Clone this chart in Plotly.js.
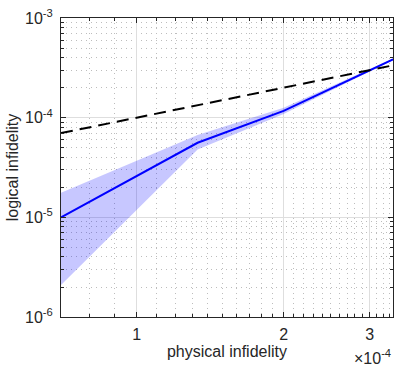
<!DOCTYPE html>
<html>
<head>
<meta charset="utf-8">
<script src="https://cdn.plot.ly/plotly-3.0.1.min.js"></script>
<style>
  html, body { margin: 0; padding: 0; background: #fff; }
  #fig { width: 415px; height: 369px; }
</style>
</head>
<body>
<div id="fig"></div>
<script>
// physical vs logical infidelity
var physX    = [0.7e-4, 1.333e-4, 2e-4, 3.35e-4];
var logMean  = [1.0e-5, 5.6e-5, 1.17e-4, 3.85e-4];
var logLow   = [2.1e-6, 4.8e-5, 1.09e-4, 3.78e-4];
var logHigh  = [1.76e-5, 6.7e-5, 1.26e-4, 3.92e-4];

// break-even line y = x
var refX = [0.7e-4, 3.35e-4];
var refY = [0.7e-4, 3.35e-4];

var xTickVals = [1e-4, 2e-4, 3e-4];
var xTickText = ['1', '2', '3'];
var yTickVals = [1e-6, 1e-5, 1e-4, 1e-3];
var yTickText = ['10<sup>-6</sup>', '10<sup>-5</sup>', '10<sup>-4</sup>', '10<sup>-3</sup>'];

var xMinor = [0.7e-4, 0.8e-4, 0.9e-4, 1.1e-4, 1.2e-4, 1.3e-4, 1.4e-4, 1.5e-4, 1.6e-4, 1.7e-4, 1.8e-4, 1.9e-4,
              2.1e-4, 2.2e-4, 2.3e-4, 2.4e-4, 2.5e-4, 2.6e-4, 2.7e-4, 2.8e-4, 2.9e-4, 3.1e-4, 3.2e-4, 3.3e-4];
var yMinor = [];
[1e-6, 1e-5, 1e-4].forEach(function (d) {
  for (var k = 2; k <= 9; k++) yMinor.push(k * d);
});

// band: upper bound, then lower bound filled up to it
var bandUp = {
  x: physX, y: logHigh, mode: 'lines', line: {width: 0},
  type: 'scatter', showlegend: false, hoverinfo: 'none'
};
var bandLow = {
  x: physX, y: logLow, mode: 'lines', line: {width: 0},
  fill: 'tonexty', fillcolor: 'rgba(0,0,255,0.22)',
  type: 'scatter', showlegend: false, hoverinfo: 'none'
};
var meanLine = {
  x: physX, y: logMean, mode: 'lines',
  line: {color: '#0000ff', width: 2},
  type: 'scatter', showlegend: false
};
var refLine = {
  x: refX, y: refY, mode: 'lines',
  line: {color: '#000', width: 2, dash: '12px,7px'},
  type: 'scatter', showlegend: false
};

var fnt = {family: 'Liberation Sans, Arial, sans-serif', size: 16, color: '#262626'};

var layout = {
  width: 415, height: 369,
  margin: {l: 61, r: 22, t: 18, b: 52},
  paper_bgcolor: '#fff', plot_bgcolor: '#fff',
  showlegend: false,
  font: fnt,
  xaxis: {
    type: 'log',
    range: [Math.log10(0.7e-4), Math.log10(3.35e-4)],
    tickmode: 'array', tickvals: xTickVals, ticktext: xTickText,
    ticks: 'inside', ticklen: 5, tickcolor: '#262626', tickwidth: 1,
    showline: true, linecolor: '#262626', linewidth: 1, mirror: 'ticks',
    showgrid: true, gridcolor: '#dedede', gridwidth: 1,
    zeroline: false,
    tickfont: fnt,
    ticklabelstandoff: 3,
    title: {text: 'physical infidelity', font: fnt, standoff: 2},
    minor: {
      tickmode: 'array', tickvals: xMinor,
      ticks: 'inside', ticklen: 3, tickcolor: '#262626',
      showgrid: true, gridcolor: '#bdbdbd', griddash: '1px,4px', gridwidth: 1
    }
  },
  yaxis: {
    type: 'log',
    range: [-6, -3],
    tickmode: 'array', tickvals: yTickVals, ticktext: yTickText,
    ticks: 'inside', ticklen: 5, tickcolor: '#262626', tickwidth: 1,
    showline: true, linecolor: '#262626', linewidth: 1, mirror: 'ticks',
    showgrid: true, gridcolor: '#dedede', gridwidth: 1,
    zeroline: false,
    tickfont: fnt,
    ticklabelstandoff: 4,
    title: {text: 'logical infidelity', font: fnt, standoff: 2},
    minor: {
      tickmode: 'array', tickvals: yMinor,
      ticks: 'inside', ticklen: 3, tickcolor: '#262626',
      showgrid: true, gridcolor: '#bdbdbd', griddash: '1px,4px', gridwidth: 1
    }
  },
  annotations: [{
    xref: 'paper', yref: 'paper', x: 1.0, y: -0.093,
    xanchor: 'right', yanchor: 'top', showarrow: false,
    text: '\u00d710<sup>-4</sup>', font: fnt
  }]
};

Plotly.newPlot('fig', [bandUp, bandLow, meanLine, refLine], layout,
  {displayModeBar: false, staticPlot: true});
</script>
</body>
</html>
